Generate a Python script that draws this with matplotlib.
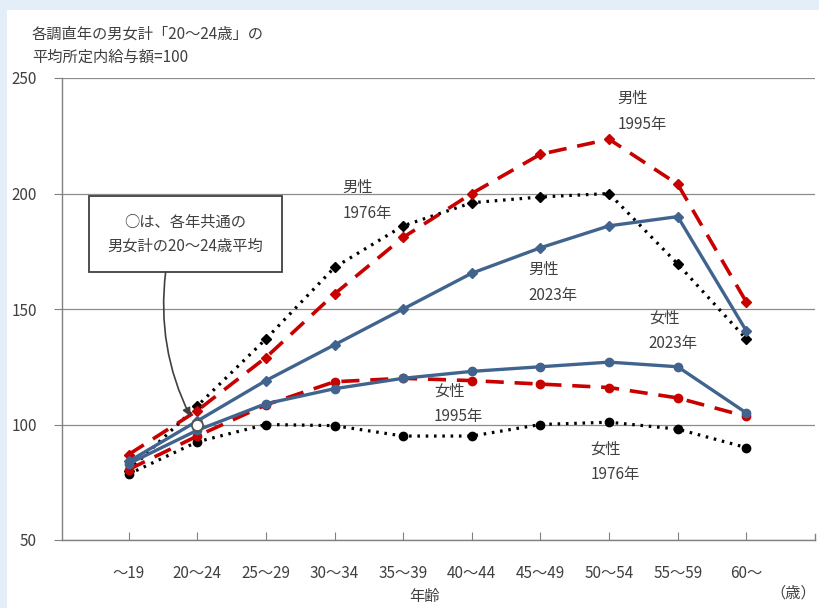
import numpy as np
import matplotlib.pyplot as plt
from matplotlib.patches import Rectangle

plt.rcParams['font.family'] = ['Noto Sans CJK JP', 'DejaVu Sans']

# age groups
ages = ['～19', '20～24', '25～29', '30～34', '35～39',
        '40～44', '45～49', '50～54', '55～59', '60～']

# index (20-24 total of each year = 100)
male_1976 = [80, 108, 137, 168, 186, 196, 198.5, 200, 169.5, 137]
male_1995 = [87, 106, 129, 156.5, 181, 200, 217, 223.5, 204, 153]
male_2023 = [84, 101.5, 119, 134.5, 150, 165.5, 176.5, 186, 190, 140.5]
female_1976 = [78.5, 92.5, 100, 99.5, 95, 95, 100, 101, 98, 90]
female_1995 = [80.5, 95, 108.5, 118.5, 120, 119, 117.5, 116, 111.5, 103.5]
female_2023 = [83, 97.5, 109, 115.5, 120, 123, 125, 127, 125, 105]
base_value = 100  # common 20-24 average

BLACK = '#000000'
RED = '#c80000'
BLUE = '#41648f'
TXT = '#404040'

fig = plt.figure(figsize=(8.2, 6.08), dpi=100, facecolor='#e4eef9')
fig.patches.append(Rectangle((7 / 820, 0), 1, 1 - 10 / 608, transform=fig.transFigure,
                             facecolor='white', edgecolor='none', zorder=-5))
ax = fig.add_axes([62 / 820, 68 / 608, 753 / 820, 462 / 608])
ax.set_zorder(2)
ax.set_facecolor('white')

x = np.arange(len(ages))

dot = dict(color=BLACK, linestyle=(0, (0.8, 1.8)), linewidth=2.3)
dash = dict(color=RED, linestyle=(0, (5, 3)), linewidth=2.6)
solid = dict(color=BLUE, linestyle='-', linewidth=2.4)

ax.plot(x, female_1976, marker='o', markersize=6, **dot, zorder=3)
ax.plot(x, male_1976, marker='D', markersize=5.5, **dot, zorder=3)
ax.plot(x, female_1995, marker='o', markersize=6, **dash, zorder=4)
ax.plot(x, male_1995, marker='D', markersize=5.5, **dash, zorder=4)
ax.plot(x, female_2023, marker='o', markersize=6, **solid, zorder=5)
ax.plot(x, male_2023, marker='D', markersize=5.5, **solid, zorder=5)
ax.plot([1], [base_value], marker='o', markersize=8, markerfacecolor='white',
        markeredgecolor='#555555', markeredgewidth=1.3, linestyle='none', zorder=7)

ax.set_xlim(-0.97, 10)
ax.set_ylim(50, 250)
ax.set_yticks([50, 100, 150, 200, 250])
ax.set_xticks(x)
ax.set_xticklabels(ages)
ax.yaxis.grid(True, color='#8c8c8c', linewidth=0.9)
ax.set_axisbelow(True)
for s in ['top', 'right']:
    ax.spines[s].set_visible(False)
for s in ['left', 'bottom']:
    ax.spines[s].set_color('#808080')
    ax.spines[s].set_linewidth(1.0)
ax.tick_params(axis='y', direction='out', length=6, color='#808080', labelsize=11,
               labelcolor=TXT, pad=12)
ax.tick_params(axis='x', direction='in', length=6, color='#808080', labelsize=11,
               labelcolor=TXT, pad=18)
# end tick at the right of the category axis
ax.plot([10, 10], [50, 52.6], color='#808080', linewidth=1.0, clip_on=False, zorder=2)

# series labels
labels = [('男性\n1976年', 3.12, 197), ('男性\n1995年', 7.12, 235.5),
          ('男性\n2023年', 5.83, 161.5), ('女性\n2023年', 7.58, 140.5),
          ('女性\n1995年', 4.45, 109), ('女性\n1976年', 6.73, 84)]
for txt, lx, ly in labels:
    ax.text(lx, ly, txt, fontsize=11, color=TXT, ha='left', va='center', linespacing=1.65)

# note box with arrow
ax.add_patch(Rectangle((-0.58, 166), 2.82, 33, facecolor='white', edgecolor='#404040',
                       linewidth=1.3, zorder=6))
ax.text(0.83, 182.5, '○は、各年共通の\n男女計の20～24歳平均', fontsize=11, color=TXT,
        ha='center', va='center', linespacing=1.55, zorder=7)
ax.annotate('', xy=(0.9, 103.5), xytext=(0.54, 166),
            arrowprops=dict(arrowstyle='-|>', color='#404040', lw=1.2,
                            mutation_scale=12, shrinkA=0, shrinkB=0,
                            connectionstyle='arc3,rad=0.15'), zorder=6)

fig.text(32 / 820, 1 - 46 / 608, '各調直年の男女計「20～24歳」の\n平均所定内給与額=100',
         fontsize=11, color=TXT, ha='left', va='center', linespacing=1.45)
fig.text(425 / 820, 1 - 597 / 608, '年齢', fontsize=11, color=TXT, ha='center', va='center')
fig.text(816 / 820, 1 - 593 / 608, '（歳）', fontsize=11, color=TXT, ha='right', va='center')

fig.savefig('out.png', dpi=100, facecolor=fig.get_facecolor())
